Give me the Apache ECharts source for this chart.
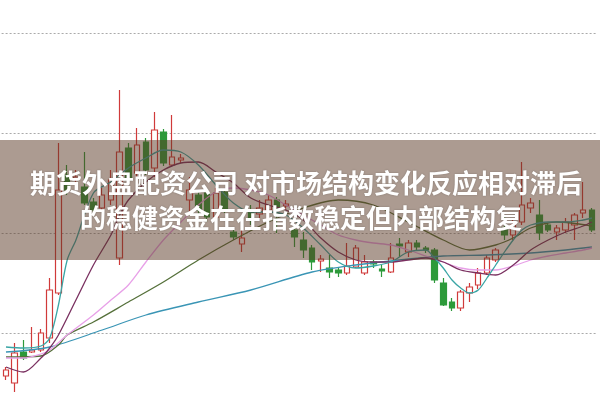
<!DOCTYPE html>
<html><head><meta charset="utf-8">
<script src="https://cdn.jsdelivr.net/npm/echarts@6/dist/echarts.min.js"></script>
<style>html,body{margin:0;padding:0;background:#fff}#c{width:600px;height:400px}</style>
</head><body><div id="c"></div>
<script>
// candles: [open, close, low, high]
const candles = [
[9.57,9.63,9.53,9.66],[9.50,9.80,9.41,9.90],[9.81,9.75,9.73,9.93],[9.81,9.83,9.80,10.06],
[9.83,10.00,9.81,10.04],[9.95,10.43,9.90,10.55],[10.40,11.43,10.38,11.90],[11.58,11.43,11.38,11.68],
[11.54,11.56,11.48,11.63],[11.46,11.30,11.28,11.81],[11.31,11.23,11.18,11.35],[11.25,11.38,11.21,11.45],
[11.33,11.53,11.28,11.63],[10.75,11.81,10.68,12.43],[11.85,11.53,11.48,11.90],[11.60,11.88,11.55,12.05],
[11.91,11.63,11.58,11.95],[11.65,12.03,11.56,12.21],[12.01,11.70,11.67,12.04],[11.68,11.76,11.66,12.18],
[11.73,11.75,11.70,11.79],[11.33,11.43,11.21,11.56],[11.38,11.23,11.18,11.43],[11.40,11.16,11.11,11.45],
[11.16,11.40,11.11,11.45],[11.41,11.23,11.20,11.43],[11.01,10.96,10.93,11.03],[10.89,10.95,10.81,11.05],
[11.23,11.13,11.08,11.28],[11.19,11.25,11.15,11.33],[11.23,11.33,11.20,11.38],[11.33,11.23,11.00,11.36],
[11.27,11.29,11.23,11.33],[11.03,10.96,10.86,11.06],[10.93,10.83,10.75,11.01],[10.85,10.71,10.63,10.88],
[10.72,10.74,10.61,10.78],[10.65,10.61,10.55,10.78],[10.63,10.60,10.56,10.66],[10.60,10.67,10.58,10.90],
[10.66,10.85,10.65,10.88],[10.60,10.71,10.58,10.78],[10.71,10.69,10.65,10.73],[10.64,10.62,10.56,10.68],
[10.61,10.75,10.60,10.90],[10.89,10.87,10.76,10.95],[10.81,10.90,10.76,10.93],[10.90,10.86,10.83,10.93],
[10.85,10.83,10.80,10.87],[10.83,10.53,10.50,10.85],[10.50,10.28,10.27,10.55],[10.31,10.25,10.22,10.35],
[10.25,10.41,10.22,10.43],[10.40,10.46,10.31,10.50],[10.48,10.60,10.44,10.65],[10.60,10.75,10.58,10.78],
[10.73,10.83,10.71,10.85],[11.05,10.98,10.93,11.16],[10.98,11.08,10.93,11.13],[11.11,11.28,11.08,11.71],
[11.25,11.30,11.20,11.35],[11.18,11.00,10.93,11.33],[11.08,11.03,11.01,11.10],[11.01,11.05,10.93,11.08],
[11.03,11.11,11.00,11.15],[11.08,11.18,10.93,11.20],[11.20,11.23,11.15,11.51],[11.23,11.03,11.01,11.25]
];
const categories = candles.map((_, i) => 'D' + (i + 1));
// moving averages as [index, value]
const ma5 = [[0,9.86],[2,9.85],[4,9.87],[5,9.95],[6,10.28],[7,10.73],[8,10.93],[10,11.40],[12,11.51],[14,11.65],[16,11.75],[18,11.83],[20,11.81],[22,11.68],[24,11.48],[26,11.30],[28,11.21],[30,11.21],[32,11.18],[34,11.05],[36,10.88],[38,10.71],[40,10.65],[42,10.67],[44,10.71],[46,10.81],[48,10.83],[49,10.75],[50,10.65],[51,10.53],[52,10.45],[53,10.40],[54,10.43],[55,10.55],[56,10.68],[57,10.81],[58,10.93],[59,11.03],[60,11.08],[62,11.11],[64,11.11],[66,11.13],[67,11.15]];
const ma10 = [[0,9.66],[2,9.61],[4,9.75],[5,9.85],[6,9.98],[8,10.33],[10,10.68],[12,10.98],[13,11.18],[14,11.33],[16,11.51],[18,11.63],[20,11.70],[22,11.71],[24,11.61],[26,11.50],[28,11.35],[30,11.28],[32,11.23],[34,11.13],[36,10.95],[38,10.81],[40,10.73],[42,10.71],[44,10.71],[46,10.73],[48,10.75],[50,10.71],[52,10.63],[54,10.60],[56,10.58],[58,10.68],[60,10.83],[62,10.93],[64,11.01],[66,11.07],[67,11.11]];
const ma20 = [[0,9.75],[2,9.75],[4,9.79],[5,9.83],[7,9.98],[10,10.18],[12,10.33],[14,10.48],[16,10.71],[18,10.93],[20,11.11],[22,11.28],[24,11.41],[26,11.45],[28,11.43],[30,11.38],[32,11.28],[34,11.18],[36,11.08],[38,10.98],[40,10.93],[42,10.90],[44,10.88],[46,10.83],[48,10.77],[50,10.71],[52,10.65],[54,10.63],[56,10.63],[58,10.67],[60,10.73],[62,10.77],[64,10.80],[66,10.83],[67,10.85]];
const ma30 = [[0,9.76],[4,9.77],[6,9.88],[7,9.98],[10,10.11],[14,10.31],[18,10.51],[22,10.73],[26,10.93],[30,11.11],[34,11.25],[38,11.33],[42,11.28],[46,11.11],[50,10.93],[53,10.83],[56,10.88],[58,10.95],[60,11.05],[63,11.11],[67,11.07]];
const ma60 = [[0,9.81],[5,9.86],[11,10.03],[16,10.18],[22,10.31],[28,10.43],[35,10.61],[40,10.68],[45,10.73],[50,10.77],[55,10.78],[60,10.80],[64,10.83],[67,10.86]];
const titleLines = ['期货外盘配资公司 对市场结构变化反应相对滞后', '的稳健资金在在指数稳定但内部结构复'];

const chart = echarts.init(document.getElementById('c'));
const mkLine = (data, color) => ({
  type: 'line', data, symbol: 'none', clip: false, smooth: 0.3,
  lineStyle: { color, width: 1.3 }, z: 3, silent: true
});
chart.setOption({
  animation: false,
  backgroundColor: '#fff',
  grid: { left: 1.6, right: 3.7, top: 33, bottom: 67 },
  xAxis: { type: 'category', data: categories, boundaryGap: true,
    axisLine: { show: false }, axisTick: { show: false }, axisLabel: { show: false }, splitLine: { show: false } },
  yAxis: { type: 'value', min: 10, max: 13, interval: 1,
    axisLine: { show: false }, axisTick: { show: false }, axisLabel: { show: false },
    splitLine: { show: true, lineStyle: { color: '#aaaaaa', type: [2, 2], width: 1 } } },
  series: [
    { type: 'candlestick', data: candles, barWidth: 6, clip: false, z: 2,
      itemStyle: { color: '#ffffff', color0: '#2d9a3a', borderColor: '#d03a3a', borderColor0: '#2d9a3a', borderWidth: 1.2 } },
    mkLine(ma60, '#3a95b5'),
    mkLine(ma30, '#55703a'),
    mkLine(ma20, '#e8a0e8'),
    mkLine(ma10, '#7a3060'),
    mkLine(ma5, '#3aa5a5')
  ],
  graphic: [
    { type: 'rect', z: 100, shape: { x: 0, y: 140, width: 600, height: 120 }, style: { fill: 'rgba(90,55,35,0.5)' } },
    { type: 'text', z: 101, x: 306, y: 183, style: { text: titleLines[0], fill: '#ffffff', font: 'bold 26px "Noto Sans CJK SC"', textAlign: 'center', textVerticalAlign: 'middle', textShadowColor: 'rgba(0,0,0,0.25)', textShadowBlur: 2 } },
    { type: 'text', z: 101, x: 301, y: 218, style: { text: titleLines[1], fill: '#ffffff', font: 'bold 26px "Noto Sans CJK SC"', textAlign: 'center', textVerticalAlign: 'middle', textShadowColor: 'rgba(0,0,0,0.25)', textShadowBlur: 2 } }
  ]
});
</script></body></html>
